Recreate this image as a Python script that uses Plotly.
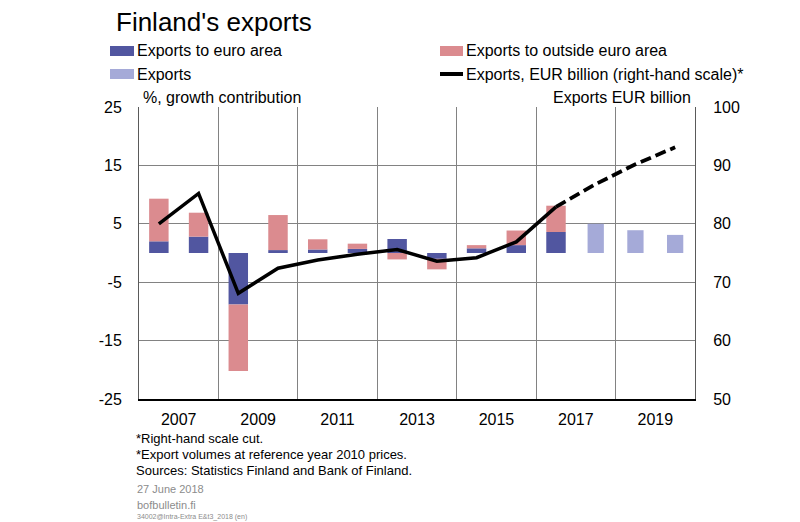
import plotly.graph_objects as go

# ---------------- data ----------------
years = [2007, 2008, 2009, 2010, 2011, 2012, 2013, 2014, 2015, 2016, 2017, 2018, 2019, 2020]
euro_area = [2.0, 2.8, -8.8, 0.5, 0.6, 0.7, 2.4, -1.0, 0.8, 1.35, 3.6, None, None, None]
outside_euro = [7.3, 4.1, -11.4, 6.0, 1.75, 0.9, -1.1, -1.8, 0.55, 2.5, 4.5, None, None, None]
exports_forecast = [None, None, None, None, None, None, None, None, None, None, None, 5.0, 3.9, 3.1]
exports_eur_bn = [80.0, 85.2, 68.1, 72.4, 73.8, 74.8, 75.6, 73.6, 74.2, 76.9, 82.9, 86.8, 90.2, 93.1]
last_actual_year = 2017
x_tick_vals = [2007.5, 2009.5, 2011.5, 2013.5, 2015.5, 2017.5, 2019.5]
x_tick_text = ["2007", "2009", "2011", "2013", "2015", "2017", "2019"]
x_grid_vals = [2008.5, 2010.5, 2012.5, 2014.5, 2016.5, 2018.5]
y_left_vals = [-25, -15, -5, 5, 15, 25]
y_left_text = ["-25", "-15", "-5", "5", "15", "25"]
y_right_vals = [50, 60, 70, 80, 90, 100]

# ---------------- styling ----------------
OFF = 8  # page body margin
W, H = 792, 514
L, T = 139 - OFF, 107 - OFF
R = W - (695 - OFF)
B = H - (399 - OFF)
PW, PH = W - L - R, H - T - B
FONT = "Liberation Sans, Arial, sans-serif"
C_EURO = "rgb(81,86,160)"
C_OUT = "rgb(219,139,143)"
C_EXP = "rgb(165,170,216)"
GRID = "rgb(130,130,130)"


def px(x):
    return (x - OFF - L) / PW


def py(y):
    return (H - B - (y - OFF)) / PH


idx = years.index(last_actual_year)
act_years = years[: idx + 1]
act_vals = exports_eur_bn[: idx + 1]
fc_years = years[idx:]
fc_vals = exports_eur_bn[idx:]

fig = go.Figure()
fig.add_trace(go.Bar(x=years, y=euro_area, name="Exports to euro area",
                     marker=dict(color=C_EURO, line=dict(width=0)), width=0.49))
fig.add_trace(go.Bar(x=years, y=outside_euro, name="Exports to outside euro area",
                     marker=dict(color=C_OUT, line=dict(width=0)), width=0.49))
fig.add_trace(go.Bar(x=years, y=exports_forecast, name="Exports",
                     marker=dict(color=C_EXP, line=dict(width=0)), width=0.41))
fig.add_trace(go.Scatter(x=act_years, y=act_vals, mode="lines", yaxis="y2",
                         line=dict(color="black", width=3.5),
                         name="Exports, EUR billion (right-hand scale)*"))
fig.add_trace(go.Scatter(x=fc_years, y=fc_vals, mode="lines", yaxis="y2",
                         line=dict(color="black", width=3.8, dash="11px,5px"),
                         showlegend=False))

fig.update_layout(
    width=W, height=H,
    margin=dict(l=L, r=R, t=T, b=B),
    paper_bgcolor="white", plot_bgcolor="white",
    barmode="relative",
    showlegend=False,
    font=dict(family=FONT, size=16, color="black"),
    title=dict(text="Finland's exports", x=(116 - OFF) / W, y=1 - (22 - OFF) / H,
               xanchor="left", yanchor="middle",
               xref="container", yref="container", font=dict(size=26, family=FONT)),
    xaxis=dict(range=[2006.5, 2020.5], tickmode="array", tickvals=x_tick_vals, ticktext=x_tick_text,
               showgrid=False, showline=True, linecolor="black", linewidth=2,
               ticks="outside", ticklen=5, tickcolor="rgba(0,0,0,0)",
               minor=dict(tickmode="array", tickvals=x_grid_vals, showgrid=True, gridcolor=GRID,
                          gridwidth=1, ticks=""),
               zeroline=False, tickfont=dict(size=16)),
    yaxis=dict(range=[-25, 25], tickmode="array", tickvals=y_left_vals, ticktext=y_left_text,
               showgrid=True, gridcolor=GRID, gridwidth=1, zeroline=False,
               showline=True, linecolor="rgb(90,90,90)", linewidth=1,
               ticks="outside", ticklen=13, tickcolor="rgba(0,0,0,0)", tickfont=dict(size=16)),
    yaxis2=dict(range=[50, 100], tickmode="array", tickvals=y_right_vals,
                overlaying="y", side="right", showgrid=False, zeroline=False,
                showline=True, linecolor="rgb(90,90,90)", linewidth=1,
                ticks="outside", ticklen=14, tickcolor="rgba(0,0,0,0)", tickfont=dict(size=16)),
)

shapes = []
annotations = []

# legend (manual, two columns)
legend_items = [
    ("rect", C_EURO, "Exports to euro area", 110, 134, 51),
    ("rect", C_OUT, "Exports to outside euro area", 440, 463, 51),
    ("rect", C_EXP, "Exports", 110, 134, 74),
    ("line", "black", "Exports, EUR billion (right-hand scale)*", 440, 463, 74),
]
for kind, col, label, x0, x1, yc in legend_items:
    if kind == "rect":
        shapes.append(dict(type="rect", xref="paper", yref="paper", x0=px(x0), x1=px(x1),
                           y0=py(yc + 5), y1=py(yc - 5), fillcolor=col, line=dict(width=0)))
    else:
        shapes.append(dict(type="line", xref="paper", yref="paper", x0=px(x0), x1=px(x1),
                           y0=py(yc), y1=py(yc), line=dict(color=col, width=4)))
    annotations.append(dict(text=label, xref="paper", yref="paper", x=px(x1 + 1), y=py(yc),
                            xanchor="left", yanchor="middle", showarrow=False,
                            font=dict(size=16, family=FONT)))

# axis titles
annotations.append(dict(text="%, growth contribution", xref="paper", yref="paper", x=px(141), y=py(97),
                        xanchor="left", yanchor="middle", showarrow=False, font=dict(size=16)))
annotations.append(dict(text="Exports EUR billion", xref="paper", yref="paper", x=px(693), y=py(97),
                        xanchor="right", yanchor="middle", showarrow=False, font=dict(size=16)))

# footnotes
notes = [("*Right-hand scale cut.", 438), ("*Export volumes at reference year 2010 prices.", 454),
         ("Sources: Statistics Finland and Bank of Finland.", 470)]
for txt, yc in notes:
    annotations.append(dict(text=txt, xref="paper", yref="paper", x=px(134), y=py(yc),
                            xanchor="left", yanchor="middle", showarrow=False,
                            font=dict(size=13, family=FONT)))
gray_notes = [("27 June 2018", 489, 11), ("bofbulletin.fi", 505, 11),
              ("34002@Intra-Extra E&t3_2018 (en)", 517, 7)]
for txt, yc, sz in gray_notes:
    annotations.append(dict(text=txt, xref="paper", yref="paper", x=px(135), y=py(yc),
                            xanchor="left", yanchor="middle", showarrow=False,
                            font=dict(size=sz, family=FONT, color="rgb(140,140,140)")))

fig.update_layout(shapes=shapes, annotations=annotations)
fig.write_html("out.html")
